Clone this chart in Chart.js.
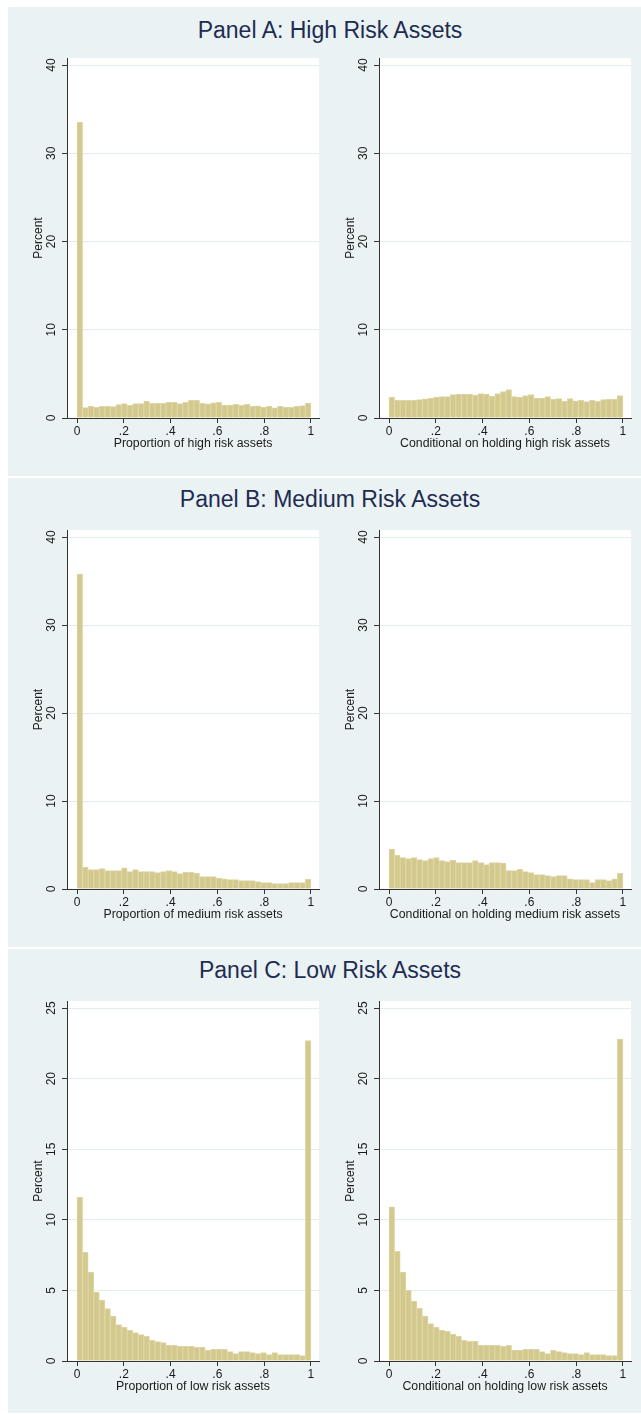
<!DOCTYPE html>
<html>
<head>
<meta charset="utf-8">
<script src="https://cdn.jsdelivr.net/npm/chart.js@4.4.1/dist/chart.umd.min.js"></script>
<style>
  html, body { margin: 0; padding: 0; background: #ffffff; }
  body { width: 641px; height: 1414px; position: relative; overflow: hidden;
         font-family: "Liberation Sans", Arial, sans-serif; }
  .panel { position: absolute; left: 8px; width: 633px; background: #eaf2f3; }
  .ptitle { position: absolute; left: 0; width: 660px; text-align: center;
            font-size: 23px; line-height: 26px; color: #1e2c52; }
  canvas { position: absolute; }
</style>
</head>
<body>
  <div class="panel" style="top:7px;height:469px;"></div>
  <div class="panel" style="top:478px;height:469px;"></div>
  <div class="panel" style="top:949px;height:464px;"></div>

  <div class="ptitle" style="top:17px;">Panel A: High Risk Assets</div>
  <div class="ptitle" style="top:486px;">Panel B: Medium Risk Assets</div>
  <div class="ptitle" style="top:957px;">Panel C: Low Risk Assets</div>

  <canvas id="highAll"  width="312" height="428" style="left:8px;top:48px;"></canvas>
  <canvas id="highCond" width="321" height="428" style="left:320px;top:48px;"></canvas>
  <canvas id="medAll"   width="312" height="427" style="left:8px;top:520px;"></canvas>
  <canvas id="medCond"  width="321" height="427" style="left:320px;top:520px;"></canvas>
  <canvas id="lowAll"   width="312" height="428" style="left:8px;top:991px;"></canvas>
  <canvas id="lowCond"  width="321" height="428" style="left:320px;top:991px;"></canvas>

<script>
// Histogram bins: 42 equal-width bins over the share range [0, 1]
const binCount = 42;
const binCenters = Array.from({ length: binCount }, (_, i) => (i + 0.5) / binCount);

// Axis ticks
const xTickValues = [0, 0.2, 0.4, 0.6, 0.8, 1];
const xTickLabels = ['0', '.2', '.4', '.6', '.8', '1'];
const yTicksAB = [0, 10, 20, 30, 40];
const yTicksC = [0, 5, 10, 15, 20, 25];

// Percent of households in each bin
const highAll = [33.5, 1.18, 1.33, 1.22, 1.33, 1.33, 1.29, 1.52, 1.63, 1.44, 1.63, 1.63, 1.9, 1.67,
  1.67, 1.67, 1.79, 1.79, 1.63, 1.79, 2.0, 2.0, 1.67, 1.6, 1.71, 1.79, 1.44, 1.44, 1.56, 1.44,
  1.56, 1.33, 1.37, 1.25, 1.33, 1.14, 1.33, 1.22, 1.22, 1.33, 1.41, 1.67];
const highCond = [2.36, 2.0, 2.0, 2.0, 2.0, 2.09, 2.17, 2.24, 2.36, 2.43, 2.43, 2.66, 2.7, 2.7,
  2.7, 2.59, 2.78, 2.7, 2.47, 2.78, 3.0, 3.23, 2.43, 2.36, 2.55, 2.66, 2.24, 2.24, 2.43, 2.13,
  2.2, 1.9, 2.2, 1.94, 2.0, 1.86, 2.0, 1.9, 2.09, 2.13, 2.13, 2.55];
const medAll = [35.8, 2.5, 2.2, 2.2, 2.31, 2.08, 2.08, 2.08, 2.42, 1.97, 2.2, 1.97, 1.97, 1.97,
  1.86, 1.97, 2.08, 1.97, 1.74, 1.93, 1.89, 1.82, 1.4, 1.4, 1.4, 1.25, 1.17, 1.06, 1.06, 0.95,
  0.95, 0.95, 0.83, 0.72, 0.72, 0.61, 0.61, 0.61, 0.72, 0.72, 0.72, 1.1];
const medCond = [4.55, 3.83, 3.56, 3.45, 3.56, 3.33, 3.22, 3.45, 3.56, 3.22, 3.11, 3.26, 2.99, 2.99,
  2.99, 3.22, 2.99, 2.77, 2.99, 2.99, 2.95, 2.08, 2.08, 2.23, 1.97, 1.86, 1.63, 1.63, 1.52, 1.4,
  1.52, 1.52, 1.17, 1.06, 1.06, 1.06, 0.72, 1.06, 1.06, 0.95, 1.17, 1.78];
const lowAll = [11.6, 7.7, 6.28, 4.88, 4.31, 3.72, 3.18, 2.58, 2.39, 2.18, 2.01, 1.87, 1.75, 1.47,
  1.37, 1.3, 1.11, 1.11, 1.04, 1.04, 1.04, 0.97, 0.97, 0.76, 0.83, 0.83, 0.83, 0.66, 0.52, 0.66,
  0.66, 0.59, 0.52, 0.59, 0.45, 0.59, 0.45, 0.45, 0.45, 0.45, 0.38, 22.7];
const lowCond = [10.92, 7.77, 6.3, 5.02, 4.24, 3.74, 3.18, 2.65, 2.39, 2.18, 2.11, 1.9, 1.75, 1.47,
  1.4, 1.4, 1.11, 1.11, 1.11, 1.11, 1.04, 1.11, 0.76, 0.76, 0.83, 0.83, 0.83, 0.66, 0.52, 0.76,
  0.66, 0.59, 0.52, 0.52, 0.45, 0.59, 0.45, 0.45, 0.45, 0.38, 0.38, 22.8];

const FONT = '"Liberation Sans", Arial, sans-serif';
const TEXT = '#1a1a1a';
const AXIS = '#333333';
const GRID = '#e3ecee';
const BAR_FILL = '#d3c98d';
const BAR_EDGE = '#ddd5a6';

// White plot region behind the bars
const plotBackground = {
  id: 'plotBackground',
  beforeDraw(chart) {
    const { ctx, chartArea: a } = chart;
    ctx.save();
    ctx.fillStyle = '#ffffff';
    ctx.fillRect(a.left, a.top, a.right - a.left, a.bottom - a.top);
    ctx.restore();
  }
};

// Vertical (rotated) y tick labels
const rotatedYLabels = {
  id: 'rotatedYLabels',
  afterDraw(chart) {
    const s = chart.scales.y;
    const ctx = chart.ctx;
    ctx.save();
    ctx.fillStyle = TEXT;
    ctx.font = '12px ' + FONT;
    ctx.textAlign = 'center';
    ctx.textBaseline = 'middle';
    s.ticks.forEach(t => {
      const y = s.getPixelForValue(t.value);
      ctx.save();
      ctx.translate(chart.chartArea.left - 15, y);
      ctx.rotate(-Math.PI / 2);
      ctx.fillText(String(t.value), 0, 0);
      ctx.restore();
    });
    ctx.restore();
  }
};

function histogram(id, values, xTitle, yTicks, yMax, rightPad) {
  return new Chart(document.getElementById(id), {
    type: 'bar',
    data: {
      datasets: [{
        data: values.map((v, i) => ({ x: binCenters[i], y: v })),
        backgroundColor: BAR_FILL,
        borderColor: BAR_EDGE,
        borderWidth: 1,
        borderSkipped: 'bottom',
        barPercentage: 1,
        categoryPercentage: 1
      }]
    },
    options: {
      responsive: false,
      animation: false,
      devicePixelRatio: 1,
      layout: { padding: { top: 10, left: 0, right: rightPad, bottom: 0 } },
      plugins: { legend: { display: false }, tooltip: { enabled: false } },
      scales: {
        x: {
          type: 'linear',
          min: -0.0428,
          max: 1.0345,
          offset: false,
          afterBuildTicks: s => { s.ticks = xTickValues.map(v => ({ value: v })); },
          afterFit: s => { s.height = 58; },
          ticks: {
            callback: (v, i) => xTickLabels[i],
            color: TEXT, font: { family: FONT, size: 12 },
            padding: 1, maxRotation: 0, minRotation: 0, autoSkip: false
          },
          grid: { offset: false, drawOnChartArea: false, tickLength: 5, tickColor: AXIS, tickWidth: 1 },
          border: { color: AXIS, width: 1 },
          title: {
            display: true, text: xTitle, color: TEXT,
            font: { family: FONT, size: 12.3 }, padding: { top: 0, bottom: 25 }
          }
        },
        y: {
          type: 'linear',
          min: 0,
          max: yMax,
          afterBuildTicks: s => { s.ticks = yTicks.map(v => ({ value: v })); },
          afterFit: s => { s.width = 59; },
          ticks: { display: false },
          grid: { color: GRID, lineWidth: 1, tickLength: 5, tickColor: AXIS, tickWidth: 1 },
          border: { color: AXIS, width: 1 },
          title: {
            display: true, text: 'Percent', color: TEXT,
            font: { family: FONT, size: 12 }, padding: { top: 23, bottom: 0 }
          }
        }
      }
    },
    plugins: [plotBackground, rotatedYLabels]
  });
}

histogram('highAll',  highAll,  'Proportion of high risk assets',            yTicksAB, 40.8, 1);
histogram('highCond', highCond, 'Conditional on holding high risk assets',   yTicksAB, 40.8, 10);
histogram('medAll',   medAll,   'Proportion of medium risk assets',          yTicksAB, 40.8, 1);
histogram('medCond',  medCond,  'Conditional on holding medium risk assets', yTicksAB, 40.8, 10);
histogram('lowAll',   lowAll,   'Proportion of low risk assets',             yTicksC,  25.5, 1);
histogram('lowCond',  lowCond,  'Conditional on holding low risk assets',    yTicksC,  25.5, 10);
</script>
</body>
</html>
